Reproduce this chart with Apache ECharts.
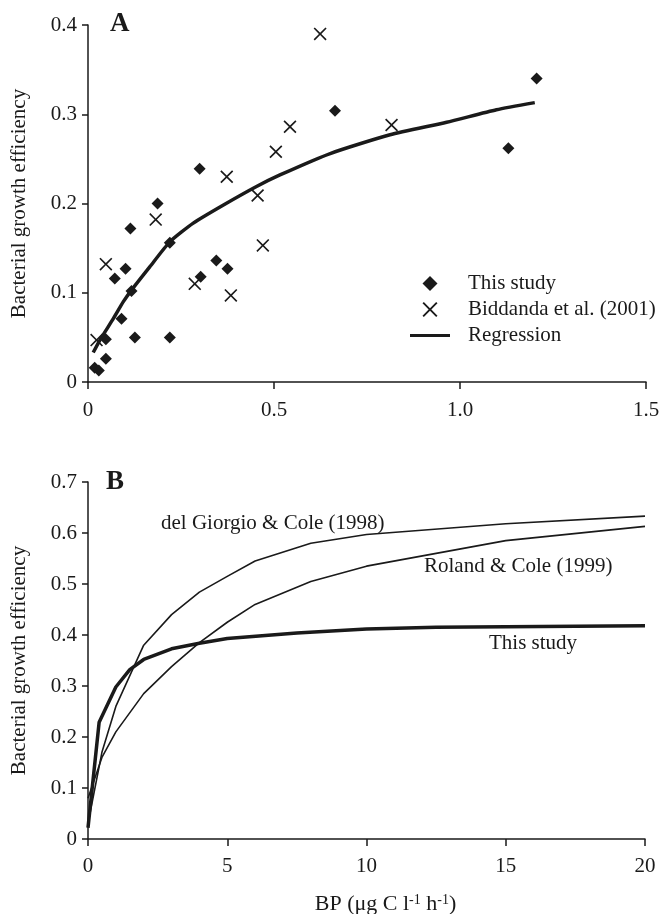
<!DOCTYPE html>
<html>
<head>
<meta charset="utf-8">
<script src="https://cdn.jsdelivr.net/npm/echarts@6/dist/echarts.min.js"></script>
<style>
html,body{margin:0;padding:0;background:#fff;}
#chart{width:661px;height:914px;}
</style>
</head>
<body>
<div id="chart"></div>
<script>
// ---- Panel A data ----
const studyX = [0.018,0.029,0.048,0.048,0.072,0.101,0.090,0.117,0.126,0.114,0.187,0.220,0.220,0.303,0.345,0.375,0.300,0.664,1.206,1.130];
const studyY = [0.016,0.013,0.026,0.048,0.116,0.127,0.071,0.102,0.050,0.172,0.200,0.156,0.050,0.118,0.136,0.127,0.239,0.304,0.340,0.262];
const bidX = [0.023,0.048,0.182,0.287,0.384,0.470,0.456,0.373,0.505,0.543,0.624,0.816];
const bidY = [0.047,0.132,0.182,0.110,0.097,0.153,0.209,0.230,0.258,0.286,0.390,0.288];
const regX = [0.014,0.032,0.068,0.095,0.117,0.166,0.220,0.283,0.363,0.453,0.516,0.651,0.812,0.964,1.098,1.201];
const regY = [0.033,0.047,0.071,0.090,0.103,0.129,0.157,0.178,0.198,0.219,0.232,0.256,0.277,0.291,0.305,0.313];
const aXTicks = [0, 0.5, 1.0, 1.5];
const aYTicks = [0, 0.1, 0.2, 0.3, 0.4];

// ---- Panel B data ----
const bpX = [0,0.5,1,2,3,4,5,6,8,10,15,20];
const giorgioY = [0.03,0.17,0.26,0.38,0.44,0.484,0.515,0.545,0.58,0.597,0.618,0.633];
const rolandY = [0.08,0.16,0.21,0.285,0.338,0.385,0.425,0.46,0.505,0.535,0.585,0.613];
const thisX = [0,0.4,1,1.5,2,3,4,5,7.5,10,12.5,15,20];
const thisY = [0.022,0.229,0.298,0.332,0.352,0.373,0.384,0.393,0.404,0.412,0.415,0.416,0.418];
const bXTicks = [0,5,10,15,20];
const bYTicks = [0,0.1,0.2,0.3,0.4,0.5,0.6,0.7];

const ink = '#1a1a1a';
const serif = '"Liberation Serif", "Times New Roman", serif';
const crossPath = 'path://M0,0.9L0.9,0L5,4.1L9.1,0L10,0.9L5.9,5L10,9.1L9.1,10L5,5.9L0.9,10L0,9.1L4.1,5Z';
const diamondPath = 'path://M5,0L10,5L5,10L0,5Z';
const linePath = 'path://M0,0L40,0L40,3.2L0,3.2Z';
const FS = 21;

function zip(xs, ys){ return xs.map((x,i)=>[x, ys[i]]); }
const fmt1 = v => v === 0 ? '0' : v.toFixed(1);

function yAxis(gi, ticks){
  return {
    type:'value', gridIndex:gi, min:ticks[0], max:ticks[ticks.length-1], interval:0.1,
    name:'Bacterial growth efficiency', nameLocation:'middle', nameGap:58,
    nameTextStyle:{fontFamily:serif, fontSize:FS, color:ink},
    axisLine:{show:true, lineStyle:{color:ink, width:1.5}},
    axisTick:{show:true, length:6, lineStyle:{color:ink, width:1.5}},
    axisLabel:{fontFamily:serif, fontSize:FS, color:ink, margin:11, formatter:fmt1},
    splitLine:{show:false}
  };
}

const chart = echarts.init(document.getElementById('chart'), null, {renderer:'canvas'});
chart.setOption({
  backgroundColor:'#fff',
  animation:false,
  grid:[
    {left:88, top:25, width:558, height:357, containLabel:false, outerBoundsMode:'none'},
    {left:88, top:482, width:557, height:357, containLabel:false, outerBoundsMode:'none'}
  ],
  xAxis:[
    {type:'value', gridIndex:0, min:0, max:1.5, interval:0.5,
     axisLine:{lineStyle:{color:ink, width:1.5}},
     axisTick:{length:7, lineStyle:{color:ink, width:1.5}},
     axisLabel:{fontFamily:serif, fontSize:FS, color:ink, margin:18, formatter:fmt1},
     splitLine:{show:false}},
    {type:'value', gridIndex:1, min:0, max:20, interval:5,
     name:'BP (μg C l{s|-1} h{s|-1})', nameLocation:'middle', nameGap:54,
     nameTextStyle:{fontFamily:serif, fontSize:22, color:ink, padding:[0,0,0,38],
       rich:{s:{fontFamily:serif, fontSize:14, color:ink, verticalAlign:'top', padding:[0,0,9,0]}}},
     axisLine:{lineStyle:{color:ink, width:1.5}},
     axisTick:{length:7, lineStyle:{color:ink, width:1.5}},
     axisLabel:{fontFamily:serif, fontSize:FS, color:ink, margin:17},
     splitLine:{show:false}}
  ],
  yAxis:[yAxis(0, aYTicks), yAxis(1, bYTicks)],
  legend:{
    orient:'vertical', left:405, top:268, itemWidth:40, itemHeight:15, itemGap:5,
    symbolKeepAspect:true,
    textStyle:{fontFamily:serif, fontSize:FS, color:ink, padding:[0,0,0,13]},
    data:[
      {name:'This study', icon:diamondPath},
      {name:'Biddanda et al. (2001)', icon:crossPath},
      {name:'Regression', icon:linePath}
    ],
    selectedMode:false
  },
  series:[
    {name:'This study', type:'scatter', xAxisIndex:0, yAxisIndex:0, symbol:diamondPath, symbolSize:12,
     itemStyle:{color:ink, opacity:1}, data:zip(studyX, studyY)},
    {name:'Biddanda et al. (2001)', type:'scatter', xAxisIndex:0, yAxisIndex:0, symbol:crossPath, symbolSize:13,
     itemStyle:{color:ink, opacity:1}, data:zip(bidX, bidY)},
    {name:'Regression', type:'line', xAxisIndex:0, yAxisIndex:0, symbol:'none', smooth:0.2,
     lineStyle:{color:ink, width:3.5}, itemStyle:{color:ink}, data:zip(regX, regY)},
    {name:'del Giorgio & Cole (1998)', type:'line', xAxisIndex:1, yAxisIndex:1, symbol:'none',
     lineStyle:{color:ink, width:1.6}, data:zip(bpX, giorgioY)},
    {name:'Roland & Cole (1999)', type:'line', xAxisIndex:1, yAxisIndex:1, symbol:'none',
     lineStyle:{color:ink, width:1.6}, data:zip(bpX, rolandY)},
    {name:'This study curve', type:'line', xAxisIndex:1, yAxisIndex:1, symbol:'none',
     lineStyle:{color:ink, width:3.5}, data:zip(thisX, thisY)}
  ],
  graphic:[
    {type:'text', left:110, top:11, style:{text:'A', font:'bold 27px '+serif, fill:ink}},
    {type:'text', left:106, top:469, style:{text:'B', font:'bold 27px '+serif, fill:ink}},
    {type:'text', left:161, top:513, style:{text:'del Giorgio & Cole (1998)', font:FS+'px '+serif, fill:ink}},
    {type:'text', left:424, top:556, style:{text:'Roland & Cole (1999)', font:FS+'px '+serif, fill:ink}},
    {type:'text', left:489, top:633, style:{text:'This study', font:FS+'px '+serif, fill:ink}}
  ]
});
</script>
</body>
</html>
